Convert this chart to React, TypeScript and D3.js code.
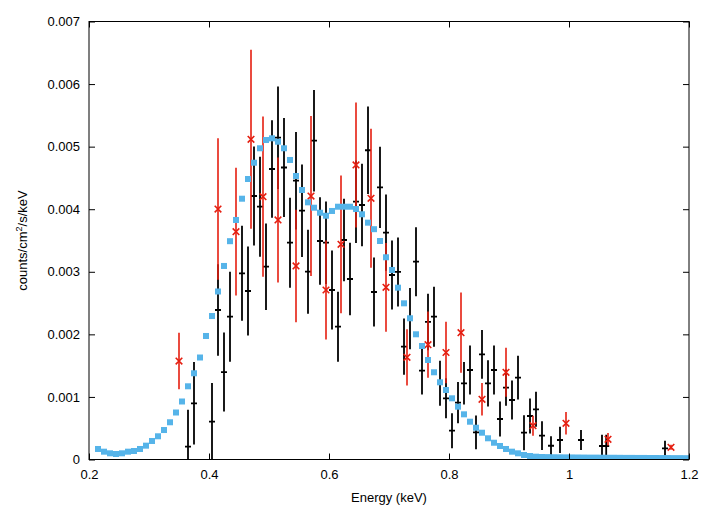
import * as d3 from "d3"
import { useEffect, useRef } from "react"

// model curve (blue squares)
const modelE = [
  0.215, 0.225, 0.235, 0.245, 0.255, 0.265, 0.275, 0.285, 0.295, 0.305,
  0.315, 0.325, 0.335, 0.345, 0.355, 0.365, 0.375, 0.385, 0.395, 0.405,
  0.415, 0.425, 0.435, 0.445, 0.455, 0.465, 0.475, 0.485, 0.495, 0.505,
  0.515, 0.525, 0.535, 0.545, 0.555, 0.565, 0.575, 0.585, 0.595, 0.605,
  0.615, 0.625, 0.635, 0.645, 0.655, 0.665, 0.675, 0.685, 0.695, 0.705,
  0.715, 0.725, 0.735, 0.745, 0.755, 0.765, 0.775, 0.785, 0.795, 0.805,
  0.815, 0.825, 0.835, 0.845, 0.855, 0.865, 0.875, 0.885, 0.895, 0.905,
  0.915, 0.925, 0.935, 0.945, 0.955, 0.965, 0.975, 0.985, 0.995, 1.005,
  1.015, 1.025, 1.035, 1.045, 1.055, 1.065, 1.075, 1.085, 1.095, 1.105,
  1.115, 1.125, 1.135, 1.145, 1.155, 1.165, 1.175, 1.185, 1.195,
]
const modelY = [
  0.000168, 0.000125, 0.000099, 0.000088, 0.000099, 0.000125, 0.000136, 0.000168, 0.000221, 0.000296,
  0.000371, 0.000471, 0.000595, 0.000751, 0.000927, 0.00117, 0.001378, 0.00163, 0.001974, 0.002293,
  0.002685, 0.003093, 0.003489, 0.003828, 0.004168, 0.004483, 0.004743, 0.004974, 0.005106, 0.005133,
  0.005079, 0.004974, 0.004787, 0.004531, 0.004307, 0.00411, 0.004024, 0.003944, 0.003896, 0.003972,
  0.00404, 0.00404, 0.00404, 0.004003, 0.003919, 0.003785, 0.003681, 0.003492, 0.003232, 0.003029,
  0.002746, 0.002496, 0.002257, 0.002001, 0.001814, 0.00159, 0.001394, 0.001234, 0.001111, 0.000978,
  0.000844, 0.000722, 0.000604, 0.000508, 0.000428, 0.000339, 0.000268, 0.000216, 0.000168, 0.000125,
  0.000099, 0.000072, 0.000056, 0.000045, 0.00004, 0.000038, 0.000036, 0.000035, 0.000034, 0.000033,
  0.000032, 0.000031, 0.00003, 0.00003, 0.000029, 0.000028, 0.000028, 0.000027, 0.000026, 0.000026,
  0.000025, 0.000025, 0.000024, 0.000024, 0.000023, 0.000023, 0.000022, 0.000022, 0.000021,
]

// data set 1 (black crosses)
const blackE = [
  0.365, 0.375, 0.405, 0.415, 0.425, 0.435, 0.455, 0.465, 0.475, 0.485,
  0.495, 0.505, 0.515, 0.525, 0.535, 0.545, 0.555, 0.565, 0.575, 0.585,
  0.595, 0.605, 0.615, 0.625, 0.635, 0.645, 0.655, 0.665, 0.675, 0.685,
  0.695, 0.705, 0.715, 0.725, 0.735, 0.745, 0.755, 0.765, 0.775, 0.785,
  0.795, 0.805, 0.815, 0.825, 0.835, 0.845, 0.855, 0.865, 0.875, 0.885,
  0.895, 0.905, 0.915, 0.925, 0.935, 0.945, 0.955, 0.97, 0.985, 1.02,
  1.055, 1.062, 1.16,
]
const blackY = [
  0.000205, 0.000898, 0.000604, 0.002389, 0.001398, 0.002282, 0.002976, 0.002693, 0.004211, 0.00404,
  0.003081, 0.004643, 0.005143, 0.004667, 0.003465, 0.004456, 0.003976, 0.003001, 0.005095, 0.003492,
  0.003465, 0.002709, 0.002122, 0.003508, 0.002885, 0.00412, 0.004067, 0.004942, 0.002677, 0.00435,
  0.003625, 0.002949, 0.002997, 0.001803, 0.00225, 0.003161, 0.001419, 0.002198, 0.002282, 0.001218,
  0.000978, 0.00046, 0.000908, 0.001218, 0.00143, 0.000435, 0.001681, 0.001218, 0.00143, 0.000647,
  0.001148, 0.000951, 0.001307, 0.000428, 0.000695, 0.000802, 0.00038, 0.00022, 0.000312, 0.000312,
  0.000216, 0.000216, 0.000179,
]
const blackErr = [
  0.00059, 0.00066, 0.00062, 0.00073, 0.00063, 0.00072, 0.00076, 0.00071, 0.00079, 0.0008,
  0.00069, 0.00078, 0.00082, 0.00079, 0.00072, 0.00078, 0.00074, 0.00067, 0.00081, 0.0007,
  0.00066, 0.00063, 0.00056, 0.00066, 0.00058, 0.00066, 0.00066, 0.0007, 0.00055, 0.00065,
  0.00061, 0.00055, 0.00055, 0.00045, 0.00049, 0.00055, 0.00038, 0.00045, 0.00048, 0.00036,
  0.00032, 0.00028, 0.00033, 0.00034, 0.00039, 0.00027, 0.00039, 0.00037, 0.00039, 0.00028,
  0.00029, 0.00031, 0.00035, 0.00028, 0.00028, 0.00028, 0.00023, 0.00015, 0.00021, 0.00016,
  0.00018, 0.00018, 0.00012,
]
const blackHalfBin = 0.005

// data set 2 (red x)
const redE = [
  0.35, 0.415, 0.445, 0.47, 0.49, 0.515, 0.545, 0.57, 0.595, 0.62,
  0.645, 0.67, 0.695, 0.73, 0.765, 0.795, 0.82, 0.855, 0.895, 0.94,
  0.995, 1.065, 1.17,
]
const redY = [
  0.001574, 0.004003, 0.003641, 0.005117, 0.0042, 0.003828, 0.003093, 0.004211, 0.002709, 0.003439,
  0.004707, 0.004175, 0.002752, 0.001633, 0.001835, 0.00171, 0.002027, 0.000962, 0.001394, 0.00054,
  0.000579, 0.000323, 0.000195,
]
const redErr = [
  0.00045, 0.00113, 0.00102, 0.00143, 0.00128, 0.001, 0.0009, 0.00128, 0.00079, 0.0011,
  0.001, 0.00111, 0.00071, 0.00045, 0.00053, 0.00049, 0.00064, 0.00026, 0.00039, 0.00016,
  0.00018, 0.0001, 0.00004,
]

const yTicks = [0, 0.001, 0.002, 0.003, 0.004, 0.005, 0.006, 0.007]
const xTicks = [0.2, 0.4, 0.6, 0.8, 1.0, 1.2]

export default function App() {
  const svgRef = useRef<SVGSVGElement>(null)

  useEffect(() => {
    const width = 708
    const height = 511
    const left = 89, right = 689, top = 21.5, bottom = 459.5
    const font = "'Liberation Sans', Arial, Helvetica, sans-serif"

    const x = d3.scaleLinear([0.2, 1.2], [left, right])
    const y = d3.scaleLinear([0, 0.007], [bottom, top])

    if (svgRef.current !== null) svgRef.current.innerHTML = ""
    const svg = d3.select(svgRef.current)
      .attr("width", width)
      .attr("height", height)
      .attr("viewBox", [0, 0, width, height])

    svg.append("rect").attr("width", width).attr("height", height).attr("fill", "white")

    svg.append("defs").append("clipPath").attr("id", "plotclip")
      .append("rect")
      .attr("x", left).attr("y", top)
      .attr("width", right - left).attr("height", bottom - top)

    const plot = svg.append("g").attr("clip-path", "url(#plotclip)")

    // black data
    const blk = plot.append("g").attr("stroke", "black").attr("stroke-width", 1.8)
    blackE.forEach((e, i) => {
      const cx = x(e), cy = y(blackY[i])
      blk.append("line")
        .attr("x1", cx).attr("x2", cx)
        .attr("y1", y(blackY[i] + blackErr[i])).attr("y2", y(blackY[i] - blackErr[i]))
      blk.append("line")
        .attr("x1", x(e - blackHalfBin)).attr("x2", x(e + blackHalfBin))
        .attr("y1", cy).attr("y2", cy)
    })

    // red data
    const red = plot.append("g").attr("stroke", "#e51e10").attr("stroke-width", 1.6)
    redE.forEach((e, i) => {
      const cx = x(e), cy = y(redY[i])
      red.append("line")
        .attr("x1", cx).attr("x2", cx)
        .attr("y1", y(redY[i] + redErr[i])).attr("y2", y(redY[i] - redErr[i]))
      const s = 3.3
      red.append("path")
        .attr("d", `M${cx - s},${cy - s}L${cx + s},${cy + s}M${cx - s},${cy + s}L${cx + s},${cy - s}`)
    })

    // model
    plot.append("g")
      .attr("fill", "#56b4e9")
      .selectAll()
      .data(modelE.map((e, i) => [e, modelY[i]]))
      .join("rect")
        .attr("x", d => x(d[0]) - 3)
        .attr("y", d => y(d[1]) - 3)
        .attr("width", 6)
        .attr("height", 6)

    // axes
    const styleAxis = (g: any) => {
      g.select(".domain").remove()
      g.selectAll("line").attr("stroke", "black").attr("stroke-width", 1)
      g.selectAll("text").attr("fill", "black").attr("font-family", font).attr("font-size", 13)
    }

    svg.append("g")
      .attr("transform", `translate(0,${bottom})`)
      .call(d3.axisBottom(x).tickValues(xTicks).tickSize(-6).tickPadding(10.5)
        .tickFormat(d => String(+(+d).toFixed(1))))
      .call(styleAxis)

    svg.append("g")
      .attr("transform", `translate(0,${top})`)
      .call(d3.axisTop(x).tickValues(xTicks).tickSize(-6).tickFormat(() => ""))
      .call(styleAxis)

    svg.append("g")
      .attr("transform", `translate(${left},0)`)
      .call(d3.axisLeft(y).tickValues(yTicks).tickSize(-6).tickPadding(9)
        .tickFormat(d => (+d === 0 ? "0" : (+d).toFixed(3))))
      .call(styleAxis)

    svg.append("g")
      .attr("transform", `translate(${right},0)`)
      .call(d3.axisRight(y).tickValues(yTicks).tickSize(-6).tickFormat(() => ""))
      .call(styleAxis)

    svg.append("rect")
      .attr("x", left).attr("y", top)
      .attr("width", right - left).attr("height", bottom - top)
      .attr("fill", "none").attr("stroke", "black").attr("stroke-width", 1)

    svg.append("text")
      .attr("x", (left + right) / 2)
      .attr("y", 502)
      .attr("text-anchor", "middle")
      .attr("font-family", font)
      .attr("font-size", 13)
      .text("Energy (keV)")

    const yl = svg.append("text")
      .attr("transform", `translate(27,${(top + bottom) / 2}) rotate(-90)`)
      .attr("text-anchor", "middle")
      .attr("font-family", font)
      .attr("font-size", 13)
    yl.append("tspan").text("counts/cm")
    yl.append("tspan").attr("dy", -5).attr("font-size", 9).text("2")
    yl.append("tspan").attr("dy", 5).text("/s/keV")
  }, [])

  return <svg ref={svgRef} style={{ position: "absolute", left: 0, top: 0 }}></svg>
}
